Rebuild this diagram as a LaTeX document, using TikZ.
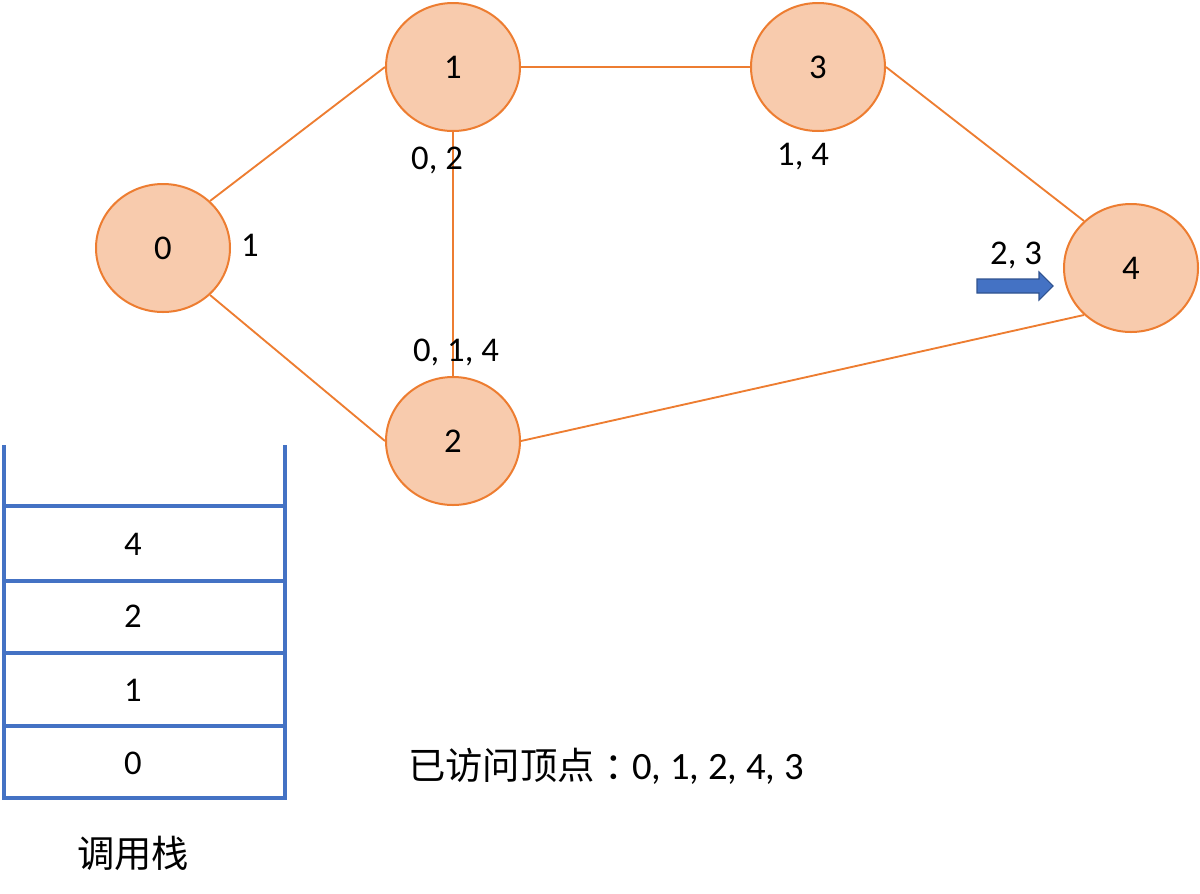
\documentclass[tikz,border=0pt]{standalone}
\usepackage{fontspec}
\setmainfont{Carlito}
\newfontfamily\cjk{Noto Sans CJK SC}
\usetikzlibrary{shapes.geometric}
\definecolor{nodefill}{HTML}{F8CBAD}
\definecolor{nodeline}{HTML}{ED7D31}
\definecolor{stackblue}{HTML}{4472C4}
\definecolor{arrowline}{HTML}{2F528F}
\begin{document}
\begin{tikzpicture}[x=0.75pt,y=-0.75pt,
  vertex/.style={ellipse,draw=nodeline,fill=nodefill,line width=1.5pt,minimum width=100.5pt,minimum height=96pt,inner sep=0pt,font=\fontsize{26}{30}\selectfont},
  edge/.style={draw=nodeline,line width=1.4pt},
  lbl/.style={font=\fontsize{26}{30}\selectfont,inner sep=0pt},
  biglbl/.style={font=\fontsize{28}{32}\selectfont,inner sep=0pt},
  stackline/.style={draw=stackblue,line width=2.3pt},
  pointer/.style={fill=stackblue,draw=arrowline,line width=0.8pt}]
\useasboundingbox (0,0) rectangle (1200,893);
% vertices
\node[vertex] (n0) at (163,248) {0};
\node[vertex] (n1) at (453,67) {1};
\node[vertex] (n3) at (818,67) {3};
\node[vertex] (n4) at (1131,268) {4};
\node[vertex] (n2) at (453,441) {2};
% edges
\draw[edge] (n0.45) -- (n1.west);
\draw[edge] (n0.-45) -- (n2.west);
\draw[edge] (n1.east) -- (n3.west);
\draw[edge] (n1.south) -- (n2.north);
\draw[edge] (n3.east) -- (n4.135);
\draw[edge] (n2.east) -- (n4.225);
% adjacency labels
\node[lbl] (l0) at (250,245) {1};
\node[lbl] (l1) at (437,160) {0, 2};
\node[lbl] (l3) at (803,157) {1, 4};
\node[lbl] (l2) at (456,352) {0, 1, 4};
\node[lbl] (l4) at (1016,255) {2, 3};
% pointer arrow
\draw[pointer] (977,279) -- (1039,279) -- (1039,272) -- (1053,286) -- (1039,300) -- (1039,293) -- (977,293) -- cycle;
% stack
\coordinate (stl) at (4,445);
\coordinate (str) at (285,445);
\coordinate (sbl) at (4,798);
\coordinate (sbr) at (285,798);
\draw[stackline] (stl) -- (sbl) -- (sbr) -- (str);
\foreach \yy in {506,581,653,726}{
  \draw[stackline] (4,\yy) -- (285,\yy);
}
\node[lbl] (s4) at (133,544) {4};
\node[lbl] (s2) at (133,616) {2};
\node[lbl] (s1) at (133,690) {1};
\node[lbl] (s0) at (133,763) {0};
\node[biglbl] (cap) at (133,853) {\cjk 调用栈};
\node[biglbl,anchor=west] (visited) at (408,766) {{\cjk 已访问顶点\hspace{0.25em}：}\hspace{-0.25em}{\fontsize{29}{34}\selectfont 0, 1, 2, 4, 3}};
\end{tikzpicture}
\end{document}
